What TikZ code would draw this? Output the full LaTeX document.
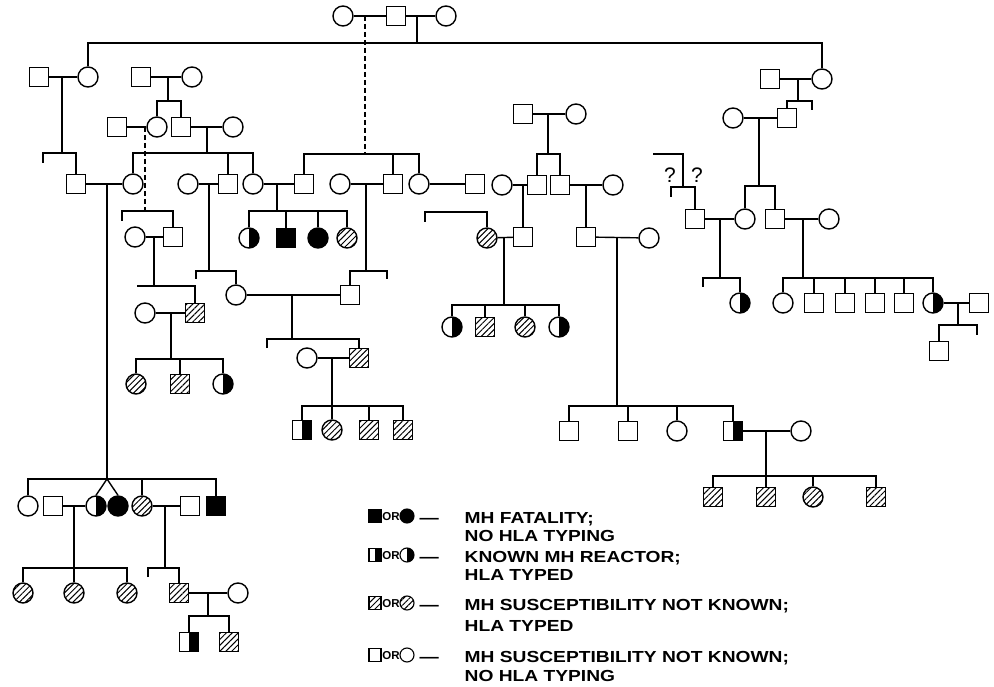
\documentclass[tikz,border=0pt]{standalone}
\usepackage{fontspec}
\setmainfont{Liberation Sans}
\newfontfamily\legfont[FakeStretch=1.2]{Liberation Sans}
\usetikzlibrary{patterns.meta}
\tikzset{
  sq/.style={draw, rectangle, minimum size=19pt, inner sep=0pt, line width=1.4pt},
  ci/.style={draw, circle, minimum size=20pt, inner sep=0pt, line width=1.4pt},
  lsq/.style={draw, rectangle, minimum width=12pt, minimum height=13pt, inner sep=0pt, line width=1.1pt},
  lci/.style={draw, circle, minimum size=14pt, inner sep=0pt, line width=1.1pt},
  hat/.style={pattern={Lines[angle=45,distance=4.2pt,line width=1pt]}},
  blk/.style={fill=black},
  half/.style={path picture={\fill[black] (path picture bounding box.north) rectangle (path picture bounding box.south east);}},
  dsh/.style={dash pattern=on 5pt off 3pt},
  legtxt/.style={anchor=base west, inner sep=0pt, font=\legfont\bfseries\fontsize{16}{19}\selectfont},
  ortxt/.style={inner sep=0pt, font=\bfseries\fontsize{11.5}{13}\selectfont},
  qm/.style={inner sep=0pt, font=\fontsize{21}{24}\selectfont},
}
\newcommand\dropto[2]{\draw (#1.north) -- (#1.north |- #2);}
\begin{document}
\begin{tikzpicture}[x=1pt,y=-1pt,line width=1.4pt]
\path[fill=white,use as bounding box] (0,0) rectangle (994,687);

% ---- top generation
\node[ci] (t1) at (343,16) {};
\node[sq] (t2) at (396,16) {};
\node[ci] (t3) at (446,16) {};
\draw (t1) -- (t2);
\draw (t2) -- (t3);
\coordinate (tD) at (365,16); \coordinate (tDs) at (365,154);
\draw[dsh] (tD) -- (tDs);
\coordinate (tM) at (417,16); \coordinate (tMs) at (417,43);
\draw (tM) -- (tMs);
\node[ci] (L1) at (88,77) {};
\node[ci] (R1) at (822,79) {};
\draw (L1.north) |- (tMs) -| (R1.north);

% ---- left branch
\node[sq] (a1) at (39,77) {};
\draw (a1) -- (L1);
\coordinate (aD) at (62,77); \coordinate (aS) at (62,153);
\draw (aD) -- (aS);
\node[sq] (a3) at (76,184) {};
\coordinate (aT) at (43,163);
\draw (aT) |- (aS) -| (a3.north);

\node[sq] (b1) at (141,77) {};
\node[ci] (b2) at (192,77) {};
\draw (b1) -- (b2);
\coordinate (bD) at (168,77); \coordinate (bS) at (168,101);
\draw (bD) -- (bS);
\node[ci] (b3) at (157,127) {};
\node[sq] (b4) at (181,127) {};
\draw (b3.north) |- (bS) -| (b4.north);
\node[sq] (b0) at (117,127) {};
\draw (b0) -- (b3);

\coordinate (cD) at (145,127); \coordinate (cS) at (145,211);
\draw[dsh] (cD) -- (cS);
\coordinate (cT) at (122,221);
\node[sq] (c2) at (173,237) {};
\node[ci] (c1) at (135,237) {};
\draw (cT) |- (cS) -| (c2.north);
\draw (c1) -- (c2);
\coordinate (dD) at (154,237); \coordinate (dS) at (154,286);
\draw (dD) -- (dS);
\node[sq,hat] (d2) at (195,313) {};
\node[ci] (d1) at (145,313) {};
\coordinate (dL) at (137,286);
\draw (dL) -- (dS) -| (d2.north);
\draw (d1) -- (d2);
\coordinate (eD) at (171,313); \coordinate (eS) at (171,359);
\draw (eD) -- (eS);
\node[ci,hat] (e1) at (136,384) {};
\node[sq,hat] (e2) at (180,384) {};
\node[ci,half] (e3) at (223,384) {};
\draw (e1.north) |- (eS) -| (e3.north);
\dropto{e2}{eS}

\node[ci] (b5) at (233,127) {};
\draw (b4) -- (b5);
\coordinate (fD) at (207,127); \coordinate (fS) at (207,153);
\draw (fD) -- (fS);
\node[ci] (L2) at (133,184) {};
\node[sq] (f2) at (228,184) {};
\node[ci] (f3) at (253,184) {};
\draw (L2.north) |- (fS) -| (f3.north);
\dropto{f2}{fS}
\draw (a3) -- (L2);

\node[ci] (f1) at (188,184) {};
\draw (f1) -- (f2);
\coordinate (gD) at (209,184); \coordinate (gS) at (209,271);
\draw (gD) -- (gS);
\coordinate (gT) at (196,279);
\node[ci] (g1) at (236,295) {};
\draw (gT) |- (gS) -| (g1.north);

\node[sq] (f4) at (304,184) {};
\draw (f3) -- (f4);
\coordinate (hD) at (277,184); \coordinate (hS) at (277,211);
\draw (hD) -- (hS);
\node[ci,half] (h1) at (249,238) {};
\node[sq,blk] (h2) at (286,238) {};
\node[ci,blk] (h3) at (318,238) {};
\node[ci,hat] (h4) at (347,238) {};
\draw (h1.north) |- (hS) -| (h4.north);
\dropto{h2}{hS}
\dropto{h3}{hS}

% ---- middle
\node[sq] (i2) at (393,184) {};
\node[ci] (i3) at (419,184) {};
\node[ci] (i1) at (340,184) {};
\node[sq] (i4) at (475,184) {};
\draw (f4.north) |- (tDs) -| (i3.north);
\dropto{i2}{tDs}
\draw (i1) -- (i2);
\draw (i3) -- (i4);
\coordinate (jD) at (366,184); \coordinate (jS) at (366,271);
\draw (jD) -- (jS);
\node[sq] (g2) at (350,295) {};
\coordinate (jT) at (387,279);
\draw (g2.north) |- (jS) -| (jT);
\draw (g1) -- (g2);
\coordinate (kD) at (292,295); \coordinate (kS) at (292,339);
\draw (kD) -- (kS);
\coordinate (kT) at (267,348);
\node[sq,hat] (j2) at (359,358) {};
\node[ci] (j1) at (307,358) {};
\draw (kT) |- (kS) -| (j2.north);
\draw (j1) -- (j2);
\coordinate (lD) at (332,358); \coordinate (lS) at (332,406);
\draw (lD) -- (lS);
\node[sq,half] (k1) at (302,430) {};
\node[ci,hat] (k2) at (332,430) {};
\node[sq,hat] (k3) at (369,430) {};
\node[sq,hat] (k4) at (403,430) {};
\draw (k1.north) |- (lS) -| (k4.north);
\dropto{k2}{lS}
\dropto{k3}{lS}

% ---- right-middle
\node[sq] (n1) at (523,114) {};
\node[ci] (n2) at (576,114) {};
\draw (n1) -- (n2);
\coordinate (nD) at (548,114); \coordinate (nS) at (548,154);
\draw (nD) -- (nS);
\node[sq] (n4) at (537,185) {};
\node[sq] (n5) at (560,185) {};
\draw (n4.north) |- (nS) -| (n5.north);
\node[ci] (n3) at (502,185) {};
\node[ci] (n6) at (613,185) {};
\draw (n3) -- (n4);
\draw (n5) -- (n6);
\coordinate (oD) at (523,185);
\node[sq] (o2) at (523,237) {};
\draw (oD) -- (o2.north);
\node[ci,hat] (o1) at (487,238) {};
\coordinate (oT) at (425,222); \coordinate (oS) at (487,212);
\draw (oT) |- (oS) -- (o1.north);
\draw (o1) -- (o2);
\coordinate (pD) at (504,238); \coordinate (pS) at (504,305);
\draw (pD) -- (pS);
\node[ci,half] (p1) at (452,327) {};
\node[sq,hat] (p2) at (485,327) {};
\node[ci,hat] (p3) at (525,327) {};
\node[ci,half] (p4) at (559,327) {};
\draw (p1.north) |- (pS) -| (p4.north);
\dropto{p2}{pS}
\dropto{p3}{pS}

\coordinate (qD) at (586,185);
\node[sq] (q1) at (586,237) {};
\draw (qD) -- (q1.north);
\node[ci] (q2) at (649,238) {};
\draw (q1) -- (q2);
\coordinate (rD) at (617,238); \coordinate (rS) at (617,406);
\draw (rD) -- (rS);
\node[sq] (r1) at (569,431) {};
\node[sq] (r2) at (628,431) {};
\node[ci] (r3) at (677,431) {};
\node[sq,half] (r4) at (733,431) {};
\draw (r1.north) |- (rS) -| (r4.north);
\dropto{r2}{rS}
\dropto{r3}{rS}
\node[ci] (r5) at (801,431) {};
\draw (r4) -- (r5);
\coordinate (sD) at (766,431); \coordinate (sS) at (766,476);
\draw (sD) -- (sS);
\node[sq,hat] (s1) at (713,497) {};
\node[sq,hat] (s2) at (766,497) {};
\node[ci,hat] (s3) at (813,497) {};
\node[sq,hat] (s4) at (876,497) {};
\draw (s1.north) |- (sS) -| (s4.north);
\draw (sS) -- (s2.north);
\dropto{s3}{sS}

% ---- right branch
\node[sq] (u1) at (770,79) {};
\draw (u1) -- (R1);
\coordinate (uD) at (798,79); \coordinate (uS) at (798,101);
\draw (uD) -- (uS);
\node[sq] (u3) at (787,118) {};
\coordinate (uT) at (812,110);
\draw (u3.north) |- (uS) -| (uT);
\node[ci] (u2) at (733,118) {};
\draw (u2) -- (u3);
\coordinate (vD) at (759,118); \coordinate (vS) at (759,186);
\draw (vD) -- (vS);
\node[ci] (v2) at (745,219) {};
\node[sq] (v3) at (775,219) {};
\draw (v2.north) |- (vS) -| (v3.north);
\node[sq] (v1) at (695,219) {};
\node[ci] (v4) at (829,219) {};
\draw (v1) -- (v2);
\draw (v3) -- (v4);
\coordinate (qa) at (653,154); \coordinate (qb) at (683,187); \coordinate (qT) at (671,197);
\draw (qa) -| (qb);
\draw (qT) |- (qb) -| (v1.north);
\node[qm] (qm1) at (670,175) {?};
\node[qm] (qm2) at (697,175) {?};

\coordinate (wD) at (720,219); \coordinate (wS) at (720,278);
\draw (wD) -- (wS);
\coordinate (wT) at (703,287);
\node[ci,half] (w1) at (740,303) {};
\draw (wT) |- (wS) -| (w1.north);
\coordinate (xD) at (803,219); \coordinate (xS) at (803,278);
\draw (xD) -- (xS);
\node[ci] (x1) at (783,303) {};
\node[sq] (x2) at (814,303) {};
\node[sq] (x3) at (845,303) {};
\node[sq] (x4) at (875,303) {};
\node[sq] (x5) at (904,303) {};
\node[ci,half] (x6) at (933,303) {};
\draw (x1.north) |- (xS) -| (x6.north);
\dropto{x2}{xS}
\dropto{x3}{xS}
\dropto{x4}{xS}
\dropto{x5}{xS}
\node[sq] (x7) at (979,303) {};
\draw (x6) -- (x7);
\coordinate (yD) at (958,303); \coordinate (yS) at (958,325);
\draw (yD) -- (yS);
\node[sq] (y1) at (939,351) {};
\coordinate (yT) at (977,335);
\draw (y1.north) |- (yS) -| (yT);

% ---- bottom left
\coordinate (zD) at (107,184); \coordinate (zS) at (107,479);
\draw (zD) -- (zS);
\node[ci] (z1) at (28,506) {};
\node[sq] (z2) at (53,506) {};
\node[ci,half] (z3) at (96,506) {};
\node[ci,blk] (z4) at (118,506) {};
\node[ci,hat] (z5) at (142,506) {};
\node[sq] (z6) at (190,506) {};
\node[sq,blk] (z7) at (216,506) {};
\draw (z1.north) |- (zS) -| (z7.north);
\dropto{z5}{zS}
\draw (z3.north) -- (zS) -- (z4.north);
\draw (z2) -- (z3);
\draw (z5) -- (z6);
\coordinate (zaD) at (74,506); \coordinate (zaS) at (74,568);
\draw (zaD) -- (zaS);
\node[ci,hat] (za) at (23,593) {};
\node[ci,hat] (zb) at (74,593) {};
\node[ci,hat] (zc) at (127,593) {};
\draw (za.north) |- (zaS) -| (zc.north);
\draw (zaS) -- (zb.north);
\coordinate (zdD) at (165,506); \coordinate (zdS) at (165,568); \coordinate (zdT) at (148,577);
\draw (zdD) -- (zdS);
\node[sq,hat] (zd) at (179,593) {};
\node[ci] (ze) at (238,593) {};
\draw (zdT) |- (zdS) -| (zd.north);
\draw (zd) -- (ze);
\coordinate (zfD) at (208,593); \coordinate (zfS) at (208,616);
\draw (zfD) -- (zfS);
\node[sq,half] (zf) at (189,642) {};
\node[sq,hat] (zg) at (229,642) {};
\draw (zf.north) |- (zfS) -| (zg.north);

% ---- legend
\node[lsq,blk] (l1a) at (375,516) {};
\node[ortxt] (l1o) at (391,517) {OR};
\node[lci,blk] (l1b) at (407,516) {};
\node[legtxt] (l1d) at (419,523) {—};
\node[legtxt] (l1t) at (464,523) {MH FATALITY;};
\node[legtxt] (l1u) at (464,541) {NO HLA TYPING};

\node[lsq,half] (l2a) at (375,555) {};
\node[ortxt] (l2o) at (391,556) {OR};
\node[lci,half] (l2b) at (407,555) {};
\node[legtxt] (l2d) at (419,562) {—};
\node[legtxt] (l2t) at (464,562) {KNOWN MH REACTOR;};
\node[legtxt] (l2u) at (464,580) {HLA TYPED};

\node[lsq,hat] (l3a) at (375,603) {};
\node[ortxt] (l3o) at (391,604) {OR};
\node[lci,hat] (l3b) at (407,603) {};
\node[legtxt] (l3d) at (419,610) {—};
\node[legtxt] (l3t) at (464,610) {MH SUSCEPTIBILITY NOT KNOWN;};
\node[legtxt] (l3u) at (464,631) {HLA TYPED};

\node[lsq] (l4a) at (375,655) {};
\node[ortxt] (l4o) at (391,656) {OR};
\node[lci] (l4b) at (407,655) {};
\node[legtxt] (l4d) at (419,662) {—};
\node[legtxt] (l4t) at (464,662) {MH SUSCEPTIBILITY NOT KNOWN;};
\node[legtxt] (l4u) at (464,681) {NO HLA TYPING};
\end{tikzpicture}
\end{document}
